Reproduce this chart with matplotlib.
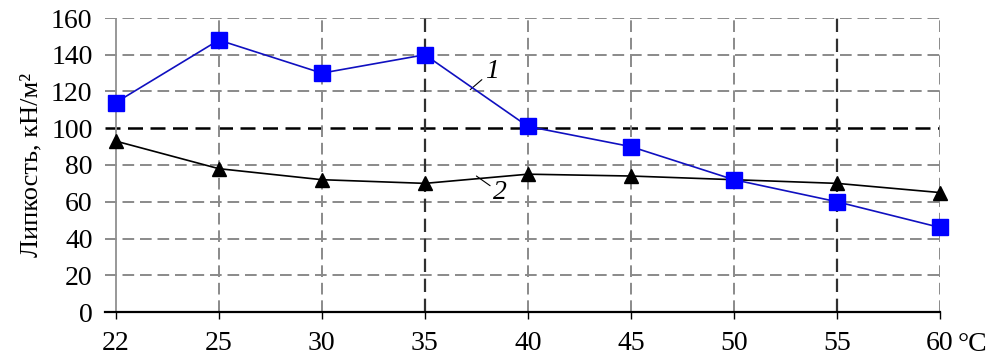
import matplotlib.pyplot as plt
import numpy as np

plt.rcParams['font.family'] = ['Liberation Serif', 'DejaVu Serif']

# Данные
temps = ['22', '25', '30', '35', '40', '45', '50', '55', '60']
curve1 = [114, 148, 130, 140, 101, 90, 72, 60, 46]
curve2 = [93, 78, 72, 70, 75, 74, 72, 70, 65]

x = np.arange(len(temps))

fig = plt.figure(figsize=(9.91, 3.58), dpi=100)
ax = fig.add_axes([105 / 991, 46 / 358, (940 - 105) / 991, (312 - 18) / 358])

ax.set_xlim(-0.105, 8)
ax.set_ylim(0, 160)

# сетка
for yv in range(20, 161, 20):
    dark = yv == 100
    ax.axhline(yv, color='black' if dark else '#8a8a8a', lw=1.8 if dark else 1.4,
               ls=(0, (6, 3)), zorder=1)
for i in range(1, len(temps)):
    dark = temps[i] in ('35', '55')
    ax.axvline(i, color='#303030' if dark else '#8a8a8a', lw=1.6 if dark else 1.4,
               ls=(0, (6, 3)), zorder=1)
ax.axvline(0, color='#909090', lw=1.3, zorder=1)

ax.plot(x, curve1, marker='s', color='#1010c0', lw=1.2, markersize=11,
        markerfacecolor='#0000ff', markeredgecolor='#0000ff', zorder=4, clip_on=False)
ax.plot(x, curve2, marker='^', color='black', lw=1.2, markersize=10.5, zorder=3, clip_on=False)

# подписи кривых
ax.annotate('1', xy=(3.44, 121), xytext=(3.58, 131), fontsize=20, style='italic',
            arrowprops=dict(arrowstyle='-', color='black', lw=0.8,
                            shrinkA=0, shrinkB=0), ha='left', va='center')
ax.annotate('2', xy=(3.5, 74), xytext=(3.66, 65), fontsize=20, style='italic',
            arrowprops=dict(arrowstyle='-', color='black', lw=0.8,
                            shrinkA=0, shrinkB=0), ha='left', va='center')

for s in ('top', 'right', 'left'):
    ax.spines[s].set_visible(False)
ax.spines['bottom'].set_linewidth(1.6)

ax.set_xticks(x)
ax.set_xticklabels(temps, fontsize=20)
ax.set_yticks(range(0, 161, 20))
ax.tick_params(axis='y', length=0, pad=9, labelsize=20)
ax.tick_params(axis='x', length=5, width=1, direction='out', pad=9)
ax.text(8.17, -0.11, '°C', transform=ax.get_xaxis_transform(), fontsize=20,
        ha='left', va='center')
ax.set_ylabel('Липкость, кН/м²', fontsize=19, fontstyle='normal', labelpad=6)

fig.savefig('out.png', dpi=100)
